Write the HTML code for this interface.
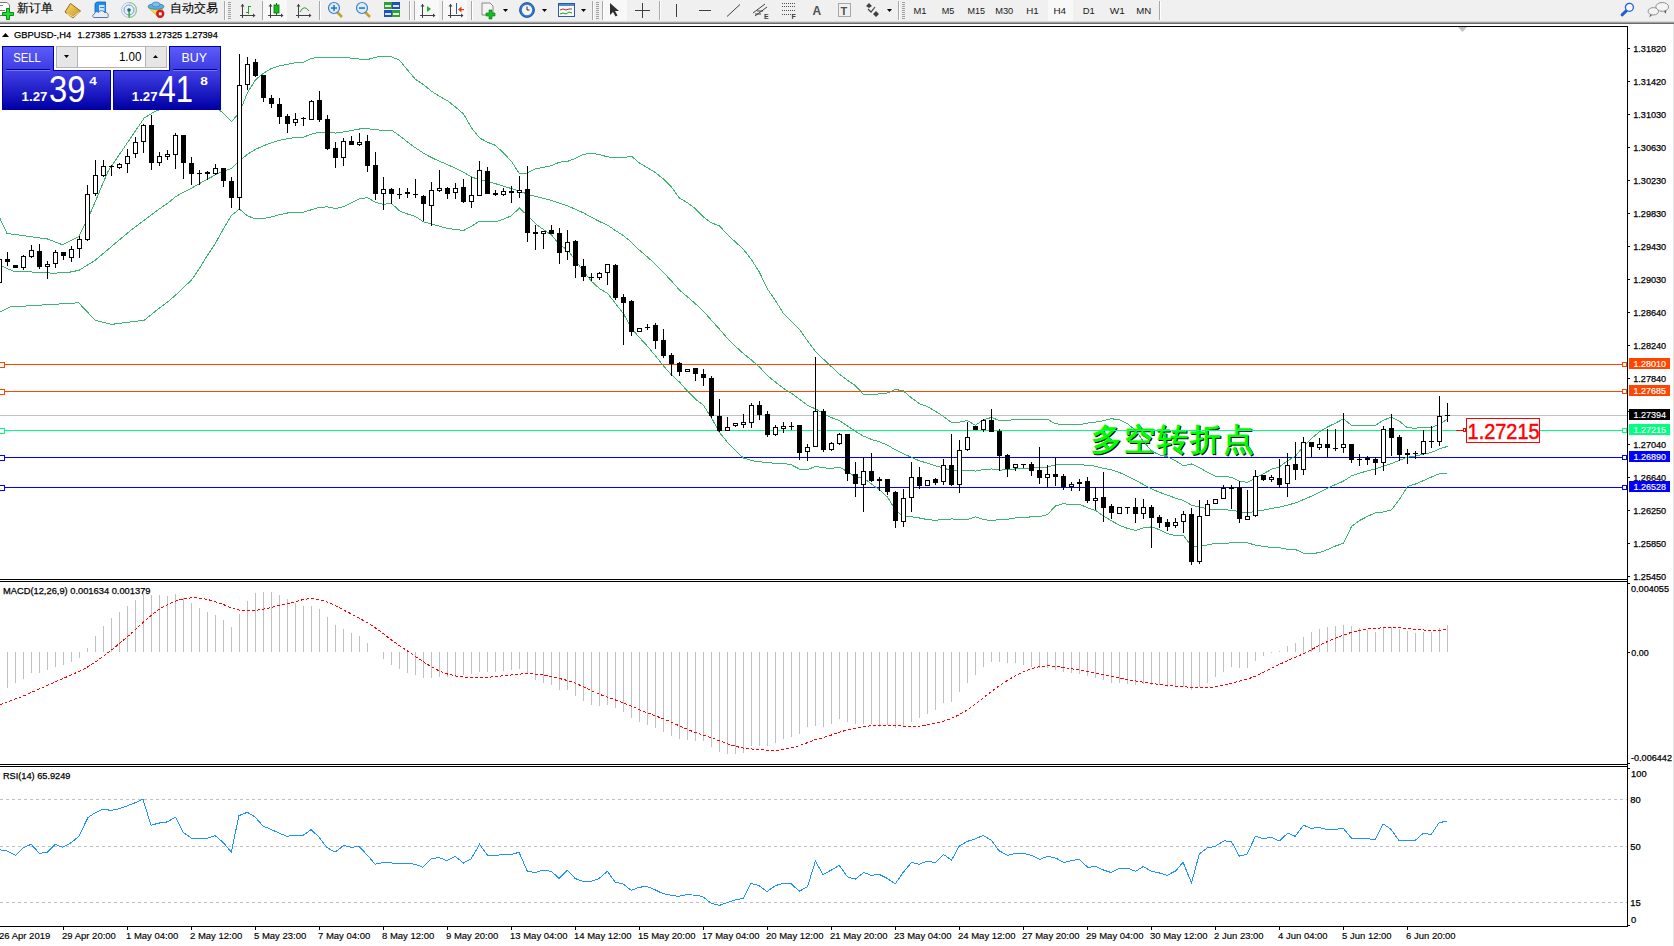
<!DOCTYPE html><html><head><meta charset="utf-8"><title>GBPUSD H4</title><style>
html,body{margin:0;padding:0;width:1674px;height:946px;overflow:hidden;background:#fff}
svg{display:block;font-family:"Liberation Sans",sans-serif}
.t{font-size:9.4px;fill:#000;stroke:#000;stroke-width:0.25px}
</style></head><body>
<svg width="1674" height="946" viewBox="0 0 1674 946">
<rect x="0" y="0" width="1674" height="22" fill="#F0F0F0"/>
<rect x="0" y="21" width="1674" height="1" fill="#D8D8D8"/>
<rect x="0" y="22" width="1674" height="1" fill="#A0A0A0"/>
<rect x="0" y="23" width="1674" height="1" fill="#6C6C6C"/>
<rect x="1673" y="24" width="1" height="922" fill="#E3E3E3"/>
<rect x="224" y="1" width="1" height="19" fill="#A8A8A8"/><rect x="225" y="1" width="1" height="19" fill="#FFFFFF"/><rect x="262" y="1" width="1" height="19" fill="#A8A8A8"/><rect x="263" y="1" width="1" height="19" fill="#FFFFFF"/><rect x="319" y="1" width="1" height="19" fill="#A8A8A8"/><rect x="320" y="1" width="1" height="19" fill="#FFFFFF"/><rect x="409" y="1" width="1" height="19" fill="#A8A8A8"/><rect x="410" y="1" width="1" height="19" fill="#FFFFFF"/><rect x="414" y="1" width="1" height="19" fill="#A8A8A8"/><rect x="415" y="1" width="1" height="19" fill="#FFFFFF"/><rect x="442" y="1" width="1" height="19" fill="#A8A8A8"/><rect x="443" y="1" width="1" height="19" fill="#FFFFFF"/><rect x="471" y="1" width="1" height="19" fill="#A8A8A8"/><rect x="472" y="1" width="1" height="19" fill="#FFFFFF"/><rect x="592" y="1" width="1" height="19" fill="#A8A8A8"/><rect x="593" y="1" width="1" height="19" fill="#FFFFFF"/><rect x="602" y="1" width="1" height="19" fill="#A8A8A8"/><rect x="603" y="1" width="1" height="19" fill="#FFFFFF"/><rect x="659" y="1" width="1" height="19" fill="#A8A8A8"/><rect x="660" y="1" width="1" height="19" fill="#FFFFFF"/><rect x="898" y="1" width="1" height="19" fill="#A8A8A8"/><rect x="899" y="1" width="1" height="19" fill="#FFFFFF"/><rect x="1159" y="1" width="1" height="19" fill="#A8A8A8"/><rect x="1160" y="1" width="1" height="19" fill="#FFFFFF"/><rect x="228" y="2" width="3" height="1" fill="#A0A0A0"/><rect x="228" y="4" width="3" height="1" fill="#A0A0A0"/><rect x="228" y="6" width="3" height="1" fill="#A0A0A0"/><rect x="228" y="8" width="3" height="1" fill="#A0A0A0"/><rect x="228" y="10" width="3" height="1" fill="#A0A0A0"/><rect x="228" y="12" width="3" height="1" fill="#A0A0A0"/><rect x="228" y="14" width="3" height="1" fill="#A0A0A0"/><rect x="228" y="16" width="3" height="1" fill="#A0A0A0"/><rect x="228" y="18" width="3" height="1" fill="#A0A0A0"/><rect x="596" y="2" width="3" height="1" fill="#A0A0A0"/><rect x="596" y="4" width="3" height="1" fill="#A0A0A0"/><rect x="596" y="6" width="3" height="1" fill="#A0A0A0"/><rect x="596" y="8" width="3" height="1" fill="#A0A0A0"/><rect x="596" y="10" width="3" height="1" fill="#A0A0A0"/><rect x="596" y="12" width="3" height="1" fill="#A0A0A0"/><rect x="596" y="14" width="3" height="1" fill="#A0A0A0"/><rect x="596" y="16" width="3" height="1" fill="#A0A0A0"/><rect x="596" y="18" width="3" height="1" fill="#A0A0A0"/><rect x="902" y="2" width="3" height="1" fill="#A0A0A0"/><rect x="902" y="4" width="3" height="1" fill="#A0A0A0"/><rect x="902" y="6" width="3" height="1" fill="#A0A0A0"/><rect x="902" y="8" width="3" height="1" fill="#A0A0A0"/><rect x="902" y="10" width="3" height="1" fill="#A0A0A0"/><rect x="902" y="12" width="3" height="1" fill="#A0A0A0"/><rect x="902" y="14" width="3" height="1" fill="#A0A0A0"/><rect x="902" y="16" width="3" height="1" fill="#A0A0A0"/><rect x="902" y="18" width="3" height="1" fill="#A0A0A0"/><rect x="263" y="0" width="24" height="21" fill="#F8F8F8"/><rect x="415" y="0" width="24" height="21" fill="#F8F8F8"/><rect x="443" y="0" width="24" height="21" fill="#F8F8F8"/><rect x="604" y="0" width="23" height="21" fill="#F8F8F8"/><rect x="1048" y="0" width="25" height="21" fill="#F8F8F8"/><path d="M-1 2.5h8l2.5 2.5v10.5H-1z" fill="#fff" stroke="#7A7A7A" stroke-width="1"/><rect x="0" y="5" width="3" height="1" fill="#808080"/><rect x="0" y="10" width="5" height="1" fill="#808080"/><path d="M6.5 8.5h3v4h4v3h-4v4h-3v-4h-4v-3h4z" fill="#22E030" stroke="#0A8A14" stroke-width="1"/><text x="17" y="12.2" style="font-size:12px;fill:#000;stroke:#000;stroke-width:0.12px">新订单</text><defs><linearGradient id="gbook" x1="0" y1="0" x2="1" y2="1"><stop offset="0" stop-color="#F8E070"/><stop offset="1" stop-color="#C89020"/></linearGradient></defs><path d="M65 12L70.5 3.5 80.5 11 73 18z" fill="url(#gbook)" stroke="#9A6410" stroke-width="1"/><path d="M67 13.5l6 3.5 6.5-5" fill="none" stroke="#FFF4C0" stroke-width="0.8"/><path d="M95 3.5l2-1.5h8.5v10.5h-10.5z" fill="#1E8CF0" stroke="#1060C0" stroke-width="0.8"/><rect x="99" y="5" width="5.5" height="6" fill="#CFE6FF"/><rect x="100" y="7" width="4" height="1" fill="#1E8CF0"/><path d="M94 17.5c-1.5 0-2-3 0.5-3.5c0-2.5 3-3 4-1.5c1-2.5 5-2.5 6 0c2.5-0.5 4.5 1.5 3.5 3.5c1 1.5-0.5 1.5-1 1.5z" fill="#E8EEF6" stroke="#4A6A9A" stroke-width="0.9"/><circle cx="129" cy="10" r="7.5" fill="none" stroke="#A8C8E8" stroke-width="1"/><circle cx="129" cy="10" r="5" fill="none" stroke="#6C9CD8" stroke-width="1"/><path d="M129 2.5a7.5 7.5 0 0 1 0 15" fill="none" stroke="#90C890" stroke-width="1.2"/><circle cx="129" cy="10" r="1.8" fill="#1A50C0"/><rect x="128.5" y="10" width="1.2" height="7.5" fill="#18A018"/><path d="M148.7 8l10 9.7 4.5-9.7z" fill="#F4D850" stroke="#C8A020" stroke-width="0.6"/><ellipse cx="156" cy="6.5" rx="8" ry="2.8" fill="#5AAEE6" stroke="#2E78B0" stroke-width="0.8"/><ellipse cx="156" cy="4.5" rx="4" ry="2.5" fill="#78C0EE" stroke="#2E78B0" stroke-width="0.6"/><circle cx="160.2" cy="13.8" r="4.2" fill="#D81818"/><rect x="158.8" y="12.4" width="2.9" height="2.9" fill="#fff"/><text x="169.5" y="12.2" style="font-size:12px;fill:#000;stroke:#000;stroke-width:0.12px">自动交易</text><rect x="242" y="4" width="1" height="14" fill="#404040"/><rect x="240" y="15" width="14" height="1" fill="#404040"/><path d="M240.5 6.5l2-2.5 2 2.5z" fill="#404040"/><path d="M253 13.5l2.5 2-2.5 2z" fill="#404040"/><rect x="248" y="6" width="1" height="8" fill="#20A020"/><rect x="249" y="6" width="2" height="1" fill="#20A020"/><rect x="246" y="12" width="2" height="1" fill="#20A020"/><rect x="270" y="4" width="1" height="14" fill="#404040"/><rect x="268" y="15" width="14" height="1" fill="#404040"/><path d="M268.5 6.5l2-2.5 2 2.5z" fill="#404040"/><path d="M281 13.5l2.5 2-2.5 2z" fill="#404040"/><rect x="276" y="3" width="1" height="12" fill="#087008"/><rect x="274" y="5" width="5" height="8" fill="#10C020" stroke="#087008" stroke-width="0.8"/><rect x="298" y="4" width="1" height="14" fill="#404040"/><rect x="296" y="15" width="14" height="1" fill="#404040"/><path d="M296.5 6.5l2-2.5 2 2.5z" fill="#404040"/><path d="M309 13.5l2.5 2-2.5 2z" fill="#404040"/><path d="M300 12 Q304 4 309 11" fill="none" stroke="#20A020" stroke-width="1"/><path d="M337 12l5 5" stroke="#C8A020" stroke-width="2.5" fill="none"/><circle cx="334" cy="8" r="5.5" fill="#D8ECFA" stroke="#3A80C8" stroke-width="1.2"/><rect x="331" y="7.3" width="6" height="1.5" fill="#3070B0"/><rect x="333.25" y="5" width="1.5" height="6" fill="#3070B0"/><path d="M365 12l5 5" stroke="#C8A020" stroke-width="2.5" fill="none"/><circle cx="362" cy="8" r="5.5" fill="#D8ECFA" stroke="#3A80C8" stroke-width="1.2"/><rect x="359" y="7.3" width="6" height="1.5" fill="#3070B0"/><rect x="384" y="2" width="8" height="7" fill="#30A030"/><rect x="392" y="2" width="8" height="7" fill="#2050C0"/><rect x="384" y="10" width="8" height="7" fill="#2050C0"/><rect x="392" y="10" width="8" height="7" fill="#30A030"/><rect x="385" y="5" width="6" height="2" fill="#fff" opacity="0.85"/><rect x="393" y="5" width="6" height="2" fill="#fff" opacity="0.85"/><rect x="385" y="13" width="6" height="2" fill="#fff" opacity="0.85"/><rect x="393" y="13" width="6" height="2" fill="#fff" opacity="0.85"/><rect x="422" y="4" width="1" height="14" fill="#404040"/><rect x="420" y="15" width="14" height="1" fill="#404040"/><path d="M420.5 6.5l2-2.5 2 2.5z" fill="#404040"/><path d="M433 13.5l2.5 2-2.5 2z" fill="#404040"/><path d="M427 6v6l4-3z" fill="#20B020"/><rect x="450" y="4" width="1" height="14" fill="#404040"/><rect x="448" y="15" width="14" height="1" fill="#404040"/><path d="M448.5 6.5l2-2.5 2 2.5z" fill="#404040"/><path d="M461 13.5l2.5 2-2.5 2z" fill="#404040"/><rect x="456" y="3" width="1" height="11" fill="#2060B0"/><path d="M458 9.5l3.5-3v6z" fill="#E04010"/><rect x="461" y="9" width="3" height="1.2" fill="#E04010"/><path d="M482 3h8l3 3v9h-11z" fill="#F4F4F4" stroke="#707070" stroke-width="0.8"/><path d="M486 13h3v-3h3v3h3v3h-3v3h-3v-3h-3z" fill="#10C020" stroke="#087010" stroke-width="0.6"/><path d="M503 9h5l-2.5 3z" fill="#000"/><path d="M542 9h5l-2.5 3z" fill="#000"/><path d="M581 9h5l-2.5 3z" fill="#000"/><circle cx="527" cy="10" r="7.5" fill="#2A78D0" stroke="#1A4A90" stroke-width="0.8"/><circle cx="527" cy="10" r="5.2" fill="#F4F4F4"/><path d="M527 6.5v3.5h2.5" stroke="#303030" stroke-width="1" fill="none"/><rect x="558.5" y="3.5" width="16" height="13" fill="#F8F8F8" stroke="#2A5AA0" stroke-width="1"/><rect x="559" y="4" width="15" height="2" fill="#4A8AD8"/><path d="M560 10l3-1 3 1 3-1 3 0" stroke="#C03020" stroke-width="1" fill="none"/><path d="M560 14l3-1 3 1 3-2 3 1" stroke="#20A020" stroke-width="1" fill="none"/><path d="M610 3v12l3-3 2.5 4.5 2-1-2.5-4.5h4z" fill="#303030"/><rect x="642" y="3" width="1" height="15" fill="#404040"/><rect x="635" y="10" width="15" height="1" fill="#404040"/><rect x="676" y="4" width="1" height="13" fill="#404040"/><rect x="699" y="10" width="12" height="1" fill="#404040"/><path d="M727 16.5l13-12" stroke="#404040" stroke-width="1" fill="none"/><path d="M753 13l12-9M755 16l12-9M757 11h6M755 14h6" stroke="#404040" stroke-width="1" fill="none"/><text x="764" y="18.5" style="font-size:7px;font-weight:bold;fill:#404040">E</text><path d="M782 3.5h13" stroke="#505050" stroke-width="1" stroke-dasharray="1,1" fill="none"/><path d="M782 6.5h13" stroke="#505050" stroke-width="1" stroke-dasharray="1,1" fill="none"/><path d="M782 10.5h13" stroke="#505050" stroke-width="1" stroke-dasharray="1,1" fill="none"/><path d="M782 14.5h13" stroke="#505050" stroke-width="1" stroke-dasharray="1,1" fill="none"/><text x="791.5" y="18.5" style="font-size:7px;font-weight:bold;fill:#404040">F</text><text x="812.5" y="15" style="font-size:12px;font-weight:bold;fill:#505050">A</text><rect x="838.5" y="3.5" width="12" height="13" fill="none" stroke="#606060" stroke-width="1" stroke-dasharray="1,1"/><text x="840.5" y="14.5" style="font-size:11px;font-weight:bold;fill:#505050">T</text><path d="M866 6l3-3 3 3-3 2zM873 14l3-3 3 3-3 3z" fill="#404040"/><path d="M868 9l3 3 4-5" stroke="#404040" stroke-width="1.2" fill="none"/><path d="M887 9h5l-2.5 3z" fill="#000"/><text x="913.5" y="14" textLength="13.0" lengthAdjust="spacingAndGlyphs" style="font-size:9.5px;fill:#202020">M1</text><text x="941.7" y="14" textLength="12.6" lengthAdjust="spacingAndGlyphs" style="font-size:9.5px;fill:#202020">M5</text><text x="967.6" y="14" textLength="17.5" lengthAdjust="spacingAndGlyphs" style="font-size:9.5px;fill:#202020">M15</text><text x="995.2" y="14" textLength="18.0" lengthAdjust="spacingAndGlyphs" style="font-size:9.5px;fill:#202020">M30</text><text x="1026.3" y="14" textLength="12.5" lengthAdjust="spacingAndGlyphs" style="font-size:9.5px;fill:#202020">H1</text><text x="1053.4" y="14" textLength="12.6" lengthAdjust="spacingAndGlyphs" style="font-size:9.5px;fill:#202020">H4</text><text x="1082.7" y="14" textLength="12.1" lengthAdjust="spacingAndGlyphs" style="font-size:9.5px;fill:#202020">D1</text><text x="1109.8" y="14" textLength="15.1" lengthAdjust="spacingAndGlyphs" style="font-size:9.5px;fill:#202020">W1</text><text x="1136.2" y="14" textLength="15.0" lengthAdjust="spacingAndGlyphs" style="font-size:9.5px;fill:#202020">MN</text><path d="M1626.5 10.6l-4.4 4.2" stroke="#2060D0" stroke-width="3" stroke-linecap="round"/><circle cx="1629.4" cy="7.3" r="4" fill="#F8F8FF" stroke="#2060D0" stroke-width="1.3"/><ellipse cx="1662.2" cy="6.9" rx="6.4" ry="4.4" fill="#F4F4F4" stroke="#909090" stroke-width="1"/><path d="M1664 11l1.5 3 1-3.5" fill="#606060"/><ellipse cx="1653.3" cy="11.3" rx="5.2" ry="3.7" fill="#F4F4F4" stroke="#909090" stroke-width="1"/><path d="M1650 14.5l-0.5 3 2.5-2.5" fill="#606060"/>
<g shape-rendering="crispEdges">
<rect x="0" y="26" width="1628" height="1" fill="#000"/>
<rect x="1627" y="26" width="1" height="901" fill="#000"/>
<rect x="0" y="579" width="1628" height="1" fill="#000"/>
<rect x="0" y="581" width="1628" height="1" fill="#000"/>
<rect x="0" y="764" width="1628" height="1" fill="#000"/>
<rect x="0" y="766" width="1628" height="1" fill="#000"/>
<rect x="0" y="926" width="1628" height="1" fill="#000"/>
</g>
<rect x="1628" y="48" width="2" height="1" fill="#000"/>
<text class="t" x="1633.2" y="52" textLength="33" lengthAdjust="spacingAndGlyphs" style="font-size:9.6px">1.31820</text>
<rect x="1628" y="81" width="2" height="1" fill="#000"/>
<text class="t" x="1633.2" y="85" textLength="33" lengthAdjust="spacingAndGlyphs" style="font-size:9.6px">1.31420</text>
<rect x="1628" y="114" width="2" height="1" fill="#000"/>
<text class="t" x="1633.2" y="118" textLength="33" lengthAdjust="spacingAndGlyphs" style="font-size:9.6px">1.31030</text>
<rect x="1628" y="147" width="2" height="1" fill="#000"/>
<text class="t" x="1633.2" y="151" textLength="33" lengthAdjust="spacingAndGlyphs" style="font-size:9.6px">1.30630</text>
<rect x="1628" y="180" width="2" height="1" fill="#000"/>
<text class="t" x="1633.2" y="184" textLength="33" lengthAdjust="spacingAndGlyphs" style="font-size:9.6px">1.30230</text>
<rect x="1628" y="213" width="2" height="1" fill="#000"/>
<text class="t" x="1633.2" y="217" textLength="33" lengthAdjust="spacingAndGlyphs" style="font-size:9.6px">1.29830</text>
<rect x="1628" y="246" width="2" height="1" fill="#000"/>
<text class="t" x="1633.2" y="250" textLength="33" lengthAdjust="spacingAndGlyphs" style="font-size:9.6px">1.29430</text>
<rect x="1628" y="279" width="2" height="1" fill="#000"/>
<text class="t" x="1633.2" y="283" textLength="33" lengthAdjust="spacingAndGlyphs" style="font-size:9.6px">1.29030</text>
<rect x="1628" y="312" width="2" height="1" fill="#000"/>
<text class="t" x="1633.2" y="316" textLength="33" lengthAdjust="spacingAndGlyphs" style="font-size:9.6px">1.28640</text>
<rect x="1628" y="345" width="2" height="1" fill="#000"/>
<text class="t" x="1633.2" y="349" textLength="33" lengthAdjust="spacingAndGlyphs" style="font-size:9.6px">1.28240</text>
<rect x="1628" y="378" width="2" height="1" fill="#000"/>
<text class="t" x="1633.2" y="382" textLength="33" lengthAdjust="spacingAndGlyphs" style="font-size:9.6px">1.27840</text>
<rect x="1628" y="411" width="2" height="1" fill="#000"/>
<text class="t" x="1633.2" y="415" textLength="33" lengthAdjust="spacingAndGlyphs" style="font-size:9.6px">1.27440</text>
<rect x="1628" y="444" width="2" height="1" fill="#000"/>
<text class="t" x="1633.2" y="448" textLength="33" lengthAdjust="spacingAndGlyphs" style="font-size:9.6px">1.27040</text>
<rect x="1628" y="477" width="2" height="1" fill="#000"/>
<text class="t" x="1633.2" y="481" textLength="33" lengthAdjust="spacingAndGlyphs" style="font-size:9.6px">1.26640</text>
<rect x="1628" y="510" width="2" height="1" fill="#000"/>
<text class="t" x="1633.2" y="514" textLength="33" lengthAdjust="spacingAndGlyphs" style="font-size:9.6px">1.26250</text>
<rect x="1628" y="543" width="2" height="1" fill="#000"/>
<text class="t" x="1633.2" y="547" textLength="33" lengthAdjust="spacingAndGlyphs" style="font-size:9.6px">1.25850</text>
<rect x="1628" y="576" width="2" height="1" fill="#000"/>
<text class="t" x="1633.2" y="580" textLength="33" lengthAdjust="spacingAndGlyphs" style="font-size:9.6px">1.25450</text>
<rect x="1628" y="583" width="2" height="1" fill="#000"/>
<text class="t" x="1631" y="592" textLength="38" lengthAdjust="spacingAndGlyphs">0.004055</text>
<rect x="1628" y="652" width="2" height="1" fill="#000"/>
<text class="t" x="1631.3" y="656" textLength="17.4" lengthAdjust="spacingAndGlyphs">0.00</text>
<rect x="1628" y="763" width="2" height="1" fill="#000"/>
<text class="t" x="1631" y="761" textLength="41" lengthAdjust="spacingAndGlyphs">-0.006442</text>
<rect x="1628" y="768" width="2" height="1" fill="#000"/>
<rect x="1628" y="925" width="2" height="1" fill="#000"/>
<text class="t" x="1631" y="777">100</text>
<text class="t" x="1630.3" y="803">80</text>
<text class="t" x="1630.3" y="850">50</text>
<text class="t" x="1630.3" y="906">15</text>
<text class="t" x="1631" y="923">0</text>
<text x="-1" y="939" style="font-size:9.5px;fill:#000;stroke:#000;stroke-width:0.15px">26 Apr 2019</text>
<rect x="63" y="927" width="1" height="3" fill="#000"/>
<text x="62" y="939" style="font-size:9.5px;fill:#000;stroke:#000;stroke-width:0.15px">29 Apr 20:00</text>
<rect x="127" y="927" width="1" height="3" fill="#000"/>
<text x="126" y="939" style="font-size:9.5px;fill:#000;stroke:#000;stroke-width:0.15px">1 May 04:00</text>
<rect x="191" y="927" width="1" height="3" fill="#000"/>
<text x="190" y="939" style="font-size:9.5px;fill:#000;stroke:#000;stroke-width:0.15px">2 May 12:00</text>
<rect x="255" y="927" width="1" height="3" fill="#000"/>
<text x="254" y="939" style="font-size:9.5px;fill:#000;stroke:#000;stroke-width:0.15px">5 May 23:00</text>
<rect x="319" y="927" width="1" height="3" fill="#000"/>
<text x="318" y="939" style="font-size:9.5px;fill:#000;stroke:#000;stroke-width:0.15px">7 May 04:00</text>
<rect x="383" y="927" width="1" height="3" fill="#000"/>
<text x="382" y="939" style="font-size:9.5px;fill:#000;stroke:#000;stroke-width:0.15px">8 May 12:00</text>
<rect x="447" y="927" width="1" height="3" fill="#000"/>
<text x="446" y="939" style="font-size:9.5px;fill:#000;stroke:#000;stroke-width:0.15px">9 May 20:00</text>
<rect x="511" y="927" width="1" height="3" fill="#000"/>
<text x="510" y="939" style="font-size:9.5px;fill:#000;stroke:#000;stroke-width:0.15px">13 May 04:00</text>
<rect x="575" y="927" width="1" height="3" fill="#000"/>
<text x="574" y="939" style="font-size:9.5px;fill:#000;stroke:#000;stroke-width:0.15px">14 May 12:00</text>
<rect x="639" y="927" width="1" height="3" fill="#000"/>
<text x="638" y="939" style="font-size:9.5px;fill:#000;stroke:#000;stroke-width:0.15px">15 May 20:00</text>
<rect x="703" y="927" width="1" height="3" fill="#000"/>
<text x="702" y="939" style="font-size:9.5px;fill:#000;stroke:#000;stroke-width:0.15px">17 May 04:00</text>
<rect x="767" y="927" width="1" height="3" fill="#000"/>
<text x="766" y="939" style="font-size:9.5px;fill:#000;stroke:#000;stroke-width:0.15px">20 May 12:00</text>
<rect x="831" y="927" width="1" height="3" fill="#000"/>
<text x="830" y="939" style="font-size:9.5px;fill:#000;stroke:#000;stroke-width:0.15px">21 May 20:00</text>
<rect x="895" y="927" width="1" height="3" fill="#000"/>
<text x="894" y="939" style="font-size:9.5px;fill:#000;stroke:#000;stroke-width:0.15px">23 May 04:00</text>
<rect x="959" y="927" width="1" height="3" fill="#000"/>
<text x="958" y="939" style="font-size:9.5px;fill:#000;stroke:#000;stroke-width:0.15px">24 May 12:00</text>
<rect x="1023" y="927" width="1" height="3" fill="#000"/>
<text x="1022" y="939" style="font-size:9.5px;fill:#000;stroke:#000;stroke-width:0.15px">27 May 20:00</text>
<rect x="1087" y="927" width="1" height="3" fill="#000"/>
<text x="1086" y="939" style="font-size:9.5px;fill:#000;stroke:#000;stroke-width:0.15px">29 May 04:00</text>
<rect x="1151" y="927" width="1" height="3" fill="#000"/>
<text x="1150" y="939" style="font-size:9.5px;fill:#000;stroke:#000;stroke-width:0.15px">30 May 12:00</text>
<rect x="1215" y="927" width="1" height="3" fill="#000"/>
<text x="1214" y="939" style="font-size:9.5px;fill:#000;stroke:#000;stroke-width:0.15px">2 Jun 23:00</text>
<rect x="1279" y="927" width="1" height="3" fill="#000"/>
<text x="1278" y="939" style="font-size:9.5px;fill:#000;stroke:#000;stroke-width:0.15px">4 Jun 04:00</text>
<rect x="1343" y="927" width="1" height="3" fill="#000"/>
<text x="1342" y="939" style="font-size:9.5px;fill:#000;stroke:#000;stroke-width:0.15px">5 Jun 12:00</text>
<rect x="1407" y="927" width="1" height="3" fill="#000"/>
<text x="1406" y="939" style="font-size:9.5px;fill:#000;stroke:#000;stroke-width:0.15px">6 Jun 20:00</text>
<text x="1092" y="451" style="font-family:'Liberation Serif',serif;font-size:31px;letter-spacing:2px;fill:#000;stroke:#000;stroke-width:0.9">多空转折点</text>
<text x="1091" y="450" style="font-family:'Liberation Serif',serif;font-size:31px;letter-spacing:2px;fill:#00FF00;stroke:#00FF00;stroke-width:0.9">多空转折点</text>
<g shape-rendering="crispEdges">
<rect x="0" y="364" width="1627" height="1" fill="#FF4500"/>
<rect x="-1" y="362" width="5" height="5" fill="#fff" stroke="#FF4500" stroke-width="1" transform="translate(0.5,0.5)"/>
<rect x="1622" y="362" width="4" height="4" fill="#fff" stroke="#FF4500" stroke-width="1" transform="translate(0.5,0.5)"/>
<rect x="0" y="391" width="1627" height="1" fill="#FF4500"/>
<rect x="-1" y="389" width="5" height="5" fill="#fff" stroke="#FF4500" stroke-width="1" transform="translate(0.5,0.5)"/>
<rect x="1622" y="389" width="4" height="4" fill="#fff" stroke="#FF4500" stroke-width="1" transform="translate(0.5,0.5)"/>
<rect x="0" y="415" width="1627" height="1" fill="#C0C0C0"/>
<rect x="0" y="430" width="1627" height="1" fill="#00FF7F"/>
<rect x="-1" y="428" width="5" height="5" fill="#fff" stroke="#00FF7F" stroke-width="1" transform="translate(0.5,0.5)"/>
<rect x="1622" y="428" width="4" height="4" fill="#fff" stroke="#00FF7F" stroke-width="1" transform="translate(0.5,0.5)"/>
<rect x="0" y="457" width="1627" height="1" fill="#0000FF"/>
<rect x="-1" y="455" width="5" height="5" fill="#fff" stroke="#0000FF" stroke-width="1" transform="translate(0.5,0.5)"/>
<rect x="1622" y="455" width="4" height="4" fill="#fff" stroke="#0000FF" stroke-width="1" transform="translate(0.5,0.5)"/>
<rect x="0" y="487" width="1627" height="1" fill="#0000FF"/>
<rect x="-1" y="485" width="5" height="5" fill="#fff" stroke="#0000FF" stroke-width="1" transform="translate(0.5,0.5)"/>
<rect x="1622" y="485" width="4" height="4" fill="#fff" stroke="#0000FF" stroke-width="1" transform="translate(0.5,0.5)"/>
</g>
<g fill="none" stroke="#3CB371" stroke-width="1" shape-rendering="crispEdges">
<polyline points="0.0,218.5 7.0,233.4 47.5,239.0 62.3,244.7 79.0,236.5 85.6,222.4 90.0,214.0 108.2,171.0 144.3,117.9 154.0,112.0 159.5,109.6 167.5,104.7 175.5,98.4 183.5,96.7 191.5,96.4 199.5,98.9 207.5,102.9 215.5,106.5 223.5,113.5 231.5,121.6 239.5,112.5 247.5,92.7 255.5,79.7 263.5,73.2 271.5,68.5 279.5,65.9 287.5,64.3 295.5,62.7 303.5,62.1 311.5,58.5 319.5,57.1 327.5,57.1 335.5,57.4 343.5,57.4 351.5,58.2 359.5,59.1 367.5,59.6 375.5,57.2 383.5,56.3 391.5,56.8 399.5,60.2 407.5,70.0 415.5,79.4 423.5,84.7 431.5,91.2 439.5,96.3 447.5,100.8 455.5,107.0 463.5,114.0 471.5,127.8 479.5,137.9 487.5,142.2 495.5,145.4 503.5,153.0 511.5,161.4 519.5,174.0 527.5,172.9 535.5,168.9 543.5,167.2 551.5,165.8 559.5,162.1 567.5,161.4 575.5,158.3 583.5,154.3 591.5,153.3 599.5,154.5 607.5,156.9 615.5,157.6 623.5,157.6 631.5,156.3 639.5,163.0 647.5,167.7 655.5,172.7 663.5,179.1 671.5,187.2 679.5,198.1 687.5,202.7 695.5,208.8 703.5,217.1 711.5,222.9 719.5,225.9 727.5,234.7 735.5,242.0 743.5,249.4 751.5,259.7 759.5,272.4 767.5,289.1 775.5,300.7 783.5,313.5 791.5,321.3 799.5,329.5 807.5,340.8 815.5,351.5 823.5,359.2 831.5,366.8 839.5,374.2 847.5,380.2 855.5,385.8 863.5,394.4 871.5,394.6 879.5,393.9 887.5,393.0 895.5,389.4 903.5,391.0 911.5,397.9 919.5,403.7 927.5,406.7 935.5,411.4 943.5,416.4 951.5,422.5 959.5,422.2 967.5,420.6 975.5,425.3 983.5,419.6 991.5,417.5 999.5,420.5 1007.5,420.3 1015.5,419.7 1023.5,419.4 1031.5,419.2 1039.5,419.1 1047.5,419.4 1055.5,423.7 1063.5,424.7 1071.5,424.5 1079.5,424.6 1087.5,423.1 1095.5,422.1 1103.5,420.7 1111.5,418.7 1119.5,419.9 1127.5,423.8 1135.5,430.2 1143.5,441.5 1151.5,451.0 1159.5,454.9 1167.5,456.7 1175.5,460.6 1183.5,465.8 1191.5,464.0 1199.5,467.8 1207.5,472.2 1215.5,476.1 1223.5,476.5 1231.5,477.2 1239.5,481.2 1247.5,482.3 1255.5,477.9 1263.5,473.7 1271.5,469.3 1279.5,466.8 1287.5,460.8 1295.5,456.2 1303.5,446.1 1311.5,438.5 1319.5,431.8 1327.5,427.0 1335.5,423.1 1343.5,418.8 1351.5,425.3 1359.5,425.6 1367.5,425.3 1375.5,425.3 1383.5,420.1 1391.5,417.1 1399.5,421.3 1407.5,427.9 1415.5,428.1 1423.5,427.7 1431.5,427.7 1439.5,424.2 1447.5,419.0"/>
<polyline points="0.0,265.4 13.0,271.0 52.0,273.1 66.6,272.8 79.0,270.3 95.0,260.4 131.1,230.0 159.5,208.8 167.5,203.4 175.5,196.8 183.5,192.1 191.5,188.2 199.5,183.6 207.5,179.1 215.5,174.8 223.5,171.1 231.5,168.5 239.5,160.8 247.5,154.3 255.5,149.3 263.5,145.8 271.5,142.7 279.5,140.3 287.5,138.7 295.5,137.5 303.5,137.2 311.5,134.1 319.5,132.2 327.5,131.9 335.5,133.1 343.5,132.0 351.5,130.6 359.5,129.0 367.5,128.6 375.5,129.8 383.5,130.3 391.5,130.1 399.5,135.6 407.5,142.0 415.5,147.9 423.5,153.2 431.5,157.6 439.5,161.2 447.5,164.7 455.5,168.2 463.5,172.3 471.5,177.0 479.5,179.6 487.5,181.8 495.5,183.7 503.5,186.2 511.5,188.6 519.5,190.9 527.5,194.3 535.5,196.3 543.5,198.4 551.5,200.4 559.5,203.3 567.5,205.8 575.5,209.3 583.5,212.9 591.5,217.3 599.5,221.6 607.5,225.1 615.5,230.6 623.5,235.6 631.5,242.4 639.5,250.3 647.5,257.0 655.5,264.3 663.5,272.5 671.5,281.1 679.5,290.1 687.5,296.9 695.5,303.9 703.5,311.2 711.5,320.4 719.5,329.2 727.5,338.5 735.5,346.4 743.5,353.7 751.5,360.1 759.5,367.1 767.5,375.6 775.5,382.1 783.5,388.4 791.5,393.1 799.5,399.3 807.5,405.3 815.5,408.9 823.5,413.6 831.5,417.6 839.5,420.7 847.5,425.9 855.5,431.4 863.5,436.1 871.5,439.4 879.5,441.9 887.5,445.1 895.5,449.9 903.5,453.7 911.5,457.3 919.5,460.9 927.5,463.1 935.5,465.9 943.5,467.9 951.5,470.8 959.5,470.6 967.5,470.1 975.5,471.1 983.5,469.6 991.5,469.0 999.5,470.1 1007.5,469.8 1015.5,468.9 1023.5,468.5 1031.5,468.0 1039.5,467.9 1047.5,467.0 1055.5,464.8 1063.5,464.2 1071.5,464.6 1079.5,464.4 1087.5,465.4 1095.5,466.2 1103.5,468.4 1111.5,469.8 1119.5,472.6 1127.5,476.1 1135.5,480.3 1143.5,484.6 1151.5,488.9 1159.5,492.3 1167.5,495.2 1175.5,498.1 1183.5,500.6 1191.5,505.1 1199.5,507.1 1207.5,508.6 1215.5,509.8 1223.5,509.9 1231.5,510.1 1239.5,511.8 1247.5,512.6 1255.5,511.5 1263.5,510.1 1271.5,508.4 1279.5,507.2 1287.5,505.1 1295.5,502.9 1303.5,499.6 1311.5,496.1 1319.5,492.2 1327.5,488.2 1335.5,484.6 1343.5,481.1 1351.5,475.9 1359.5,473.1 1367.5,470.9 1375.5,469.0 1383.5,466.1 1391.5,463.5 1399.5,460.3 1407.5,457.2 1415.5,456.1 1423.5,454.1 1431.5,452.4 1439.5,448.9 1447.5,446.4"/>
<polyline points="0.0,312.0 9.8,307.0 78.7,302.8 95.1,320.2 111.5,324.4 144.3,320.2 159.5,307.9 167.5,302.1 175.5,295.2 183.5,287.5 191.5,280.1 199.5,268.3 207.5,255.2 215.5,243.2 223.5,228.7 231.5,215.4 239.5,209.1 247.5,215.9 255.5,218.9 263.5,218.5 271.5,216.9 279.5,214.7 287.5,213.0 295.5,212.3 303.5,212.2 311.5,209.7 319.5,207.4 327.5,206.8 335.5,208.7 343.5,206.6 351.5,202.9 359.5,198.9 367.5,197.6 375.5,202.5 383.5,204.3 391.5,203.4 399.5,210.9 407.5,214.0 415.5,216.5 423.5,221.8 431.5,224.0 439.5,226.1 447.5,228.6 455.5,229.3 463.5,230.6 471.5,226.2 479.5,221.2 487.5,221.4 495.5,221.9 503.5,219.3 511.5,215.7 519.5,207.9 527.5,215.7 535.5,223.7 543.5,229.6 551.5,235.0 559.5,244.5 567.5,250.1 575.5,260.3 583.5,271.6 591.5,281.3 599.5,288.6 607.5,293.3 615.5,303.5 623.5,313.6 631.5,328.5 639.5,337.6 647.5,346.3 655.5,355.9 663.5,365.9 671.5,374.9 679.5,382.1 687.5,391.2 695.5,399.1 703.5,405.4 711.5,417.8 719.5,432.6 727.5,442.3 735.5,450.8 743.5,458.0 751.5,460.5 759.5,461.9 767.5,462.2 775.5,463.6 783.5,463.2 791.5,464.9 799.5,469.1 807.5,469.8 815.5,466.2 823.5,467.9 831.5,468.3 839.5,467.2 847.5,471.6 855.5,477.0 863.5,477.8 871.5,484.1 879.5,489.8 887.5,497.1 895.5,510.4 903.5,516.4 911.5,516.7 919.5,518.0 927.5,519.6 935.5,520.4 943.5,519.3 951.5,519.0 959.5,519.1 967.5,519.7 975.5,516.8 983.5,519.6 991.5,520.5 999.5,519.6 1007.5,519.3 1015.5,518.0 1023.5,517.6 1031.5,516.8 1039.5,516.6 1047.5,514.6 1055.5,505.9 1063.5,503.7 1071.5,504.6 1079.5,504.3 1087.5,507.8 1095.5,510.4 1103.5,516.0 1111.5,520.8 1119.5,525.3 1127.5,528.4 1135.5,530.4 1143.5,527.8 1151.5,526.9 1159.5,529.7 1167.5,533.7 1175.5,535.6 1183.5,535.4 1191.5,546.3 1199.5,546.4 1207.5,545.0 1215.5,543.4 1223.5,543.2 1231.5,542.9 1239.5,542.4 1247.5,542.9 1255.5,545.1 1263.5,546.5 1271.5,547.4 1279.5,547.6 1287.5,549.4 1295.5,549.6 1303.5,553.2 1311.5,553.7 1319.5,552.6 1327.5,549.5 1335.5,546.0 1343.5,543.3 1351.5,526.6 1359.5,520.6 1367.5,516.4 1375.5,512.7 1383.5,512.0 1391.5,509.9 1399.5,499.3 1407.5,486.5 1415.5,484.0 1423.5,480.6 1431.5,477.0 1439.5,473.7 1447.5,473.9"/>
</g>
<g shape-rendering="crispEdges">
<rect x="-1" y="255" width="1" height="35" fill="#000"/>
<rect x="-3" y="259" width="5" height="24" fill="#000"/>
<rect x="-2" y="260" width="3" height="22" fill="#fff"/>
<rect x="7" y="252" width="1" height="14" fill="#000"/>
<rect x="5" y="259" width="5" height="3" fill="#000"/>
<rect x="15" y="265" width="1" height="3" fill="#000"/>
<rect x="13" y="265" width="5" height="3" fill="#000"/>
<rect x="23" y="255" width="1" height="15" fill="#000"/>
<rect x="21" y="256" width="5" height="12" fill="#000"/>
<rect x="22" y="257" width="3" height="10" fill="#fff"/>
<rect x="31" y="245" width="1" height="13" fill="#000"/>
<rect x="29" y="250" width="5" height="7" fill="#000"/>
<rect x="30" y="251" width="3" height="5" fill="#fff"/>
<rect x="39" y="244" width="1" height="25" fill="#000"/>
<rect x="37" y="251" width="5" height="16" fill="#000"/>
<rect x="47" y="261" width="1" height="18" fill="#000"/>
<rect x="45" y="264" width="5" height="3" fill="#000"/>
<rect x="46" y="265" width="3" height="1" fill="#fff"/>
<rect x="55" y="250" width="1" height="18" fill="#000"/>
<rect x="53" y="252" width="5" height="12" fill="#000"/>
<rect x="54" y="253" width="3" height="10" fill="#fff"/>
<rect x="63" y="252" width="1" height="8" fill="#000"/>
<rect x="61" y="252" width="5" height="4" fill="#000"/>
<rect x="71" y="246" width="1" height="16" fill="#000"/>
<rect x="69" y="249" width="5" height="9" fill="#000"/>
<rect x="70" y="250" width="3" height="7" fill="#fff"/>
<rect x="79" y="236" width="1" height="22" fill="#000"/>
<rect x="77" y="239" width="5" height="10" fill="#000"/>
<rect x="78" y="240" width="3" height="8" fill="#fff"/>
<rect x="87" y="185" width="1" height="56" fill="#000"/>
<rect x="85" y="194" width="5" height="46" fill="#000"/>
<rect x="86" y="195" width="3" height="44" fill="#fff"/>
<rect x="95" y="160" width="1" height="36" fill="#000"/>
<rect x="93" y="175" width="5" height="19" fill="#000"/>
<rect x="94" y="176" width="3" height="17" fill="#fff"/>
<rect x="103" y="160" width="1" height="17" fill="#000"/>
<rect x="101" y="166" width="5" height="10" fill="#000"/>
<rect x="102" y="167" width="3" height="8" fill="#fff"/>
<rect x="111" y="165" width="1" height="11" fill="#000"/>
<rect x="109" y="166" width="5" height="1" fill="#000"/>
<rect x="119" y="163" width="1" height="6" fill="#000"/>
<rect x="117" y="164" width="5" height="4" fill="#000"/>
<rect x="118" y="165" width="3" height="2" fill="#fff"/>
<rect x="127" y="149" width="1" height="24" fill="#000"/>
<rect x="125" y="156" width="5" height="8" fill="#000"/>
<rect x="126" y="157" width="3" height="6" fill="#fff"/>
<rect x="135" y="137" width="1" height="21" fill="#000"/>
<rect x="133" y="142" width="5" height="12" fill="#000"/>
<rect x="134" y="143" width="3" height="10" fill="#fff"/>
<rect x="143" y="124" width="1" height="29" fill="#000"/>
<rect x="141" y="125" width="5" height="17" fill="#000"/>
<rect x="142" y="126" width="3" height="15" fill="#fff"/>
<rect x="151" y="115" width="1" height="55" fill="#000"/>
<rect x="149" y="125" width="5" height="38" fill="#000"/>
<rect x="159" y="152" width="1" height="14" fill="#000"/>
<rect x="157" y="156" width="5" height="7" fill="#000"/>
<rect x="158" y="157" width="3" height="5" fill="#fff"/>
<rect x="167" y="150" width="1" height="10" fill="#000"/>
<rect x="165" y="154" width="5" height="3" fill="#000"/>
<rect x="166" y="155" width="3" height="1" fill="#fff"/>
<rect x="175" y="133" width="1" height="36" fill="#000"/>
<rect x="173" y="135" width="5" height="20" fill="#000"/>
<rect x="174" y="136" width="3" height="18" fill="#fff"/>
<rect x="183" y="135" width="1" height="44" fill="#000"/>
<rect x="181" y="135" width="5" height="28" fill="#000"/>
<rect x="191" y="157" width="1" height="28" fill="#000"/>
<rect x="189" y="163" width="5" height="11" fill="#000"/>
<rect x="199" y="170" width="1" height="15" fill="#000"/>
<rect x="197" y="173" width="5" height="1" fill="#000"/>
<rect x="207" y="171" width="1" height="9" fill="#000"/>
<rect x="205" y="172" width="5" height="2" fill="#000"/>
<rect x="215" y="164" width="1" height="11" fill="#000"/>
<rect x="213" y="168" width="5" height="6" fill="#000"/>
<rect x="214" y="169" width="3" height="4" fill="#fff"/>
<rect x="223" y="168" width="1" height="19" fill="#000"/>
<rect x="221" y="168" width="5" height="13" fill="#000"/>
<rect x="231" y="177" width="1" height="31" fill="#000"/>
<rect x="229" y="181" width="5" height="17" fill="#000"/>
<rect x="239" y="54" width="1" height="156" fill="#000"/>
<rect x="237" y="85" width="5" height="113" fill="#000"/>
<rect x="238" y="86" width="3" height="111" fill="#fff"/>
<rect x="247" y="57" width="1" height="33" fill="#000"/>
<rect x="245" y="64" width="5" height="21" fill="#000"/>
<rect x="246" y="65" width="3" height="19" fill="#fff"/>
<rect x="255" y="59" width="1" height="18" fill="#000"/>
<rect x="253" y="62" width="5" height="14" fill="#000"/>
<rect x="263" y="75" width="1" height="27" fill="#000"/>
<rect x="261" y="75" width="5" height="23" fill="#000"/>
<rect x="271" y="95" width="1" height="13" fill="#000"/>
<rect x="269" y="98" width="5" height="6" fill="#000"/>
<rect x="279" y="98" width="1" height="26" fill="#000"/>
<rect x="277" y="104" width="5" height="13" fill="#000"/>
<rect x="287" y="114" width="1" height="19" fill="#000"/>
<rect x="285" y="116" width="5" height="8" fill="#000"/>
<rect x="295" y="113" width="1" height="13" fill="#000"/>
<rect x="293" y="119" width="5" height="4" fill="#000"/>
<rect x="294" y="120" width="3" height="2" fill="#fff"/>
<rect x="303" y="117" width="1" height="9" fill="#000"/>
<rect x="301" y="118" width="5" height="1" fill="#000"/>
<rect x="311" y="100" width="1" height="20" fill="#000"/>
<rect x="309" y="101" width="5" height="19" fill="#000"/>
<rect x="310" y="102" width="3" height="17" fill="#fff"/>
<rect x="319" y="91" width="1" height="31" fill="#000"/>
<rect x="317" y="100" width="5" height="20" fill="#000"/>
<rect x="327" y="115" width="1" height="35" fill="#000"/>
<rect x="325" y="119" width="5" height="30" fill="#000"/>
<rect x="335" y="142" width="1" height="26" fill="#000"/>
<rect x="333" y="148" width="5" height="10" fill="#000"/>
<rect x="343" y="138" width="1" height="28" fill="#000"/>
<rect x="341" y="141" width="5" height="17" fill="#000"/>
<rect x="342" y="142" width="3" height="15" fill="#fff"/>
<rect x="351" y="136" width="1" height="9" fill="#000"/>
<rect x="349" y="141" width="5" height="4" fill="#000"/>
<rect x="359" y="133" width="1" height="13" fill="#000"/>
<rect x="357" y="142" width="5" height="3" fill="#000"/>
<rect x="358" y="143" width="3" height="1" fill="#fff"/>
<rect x="367" y="135" width="1" height="37" fill="#000"/>
<rect x="365" y="141" width="5" height="25" fill="#000"/>
<rect x="375" y="152" width="1" height="48" fill="#000"/>
<rect x="373" y="165" width="5" height="29" fill="#000"/>
<rect x="383" y="177" width="1" height="33" fill="#000"/>
<rect x="381" y="189" width="5" height="5" fill="#000"/>
<rect x="382" y="190" width="3" height="3" fill="#fff"/>
<rect x="391" y="188" width="1" height="16" fill="#000"/>
<rect x="389" y="189" width="5" height="5" fill="#000"/>
<rect x="399" y="188" width="1" height="11" fill="#000"/>
<rect x="397" y="194" width="5" height="1" fill="#000"/>
<rect x="407" y="188" width="1" height="10" fill="#000"/>
<rect x="405" y="192" width="5" height="2" fill="#000"/>
<rect x="415" y="179" width="1" height="19" fill="#000"/>
<rect x="413" y="194" width="5" height="1" fill="#000"/>
<rect x="423" y="195" width="1" height="26" fill="#000"/>
<rect x="421" y="196" width="5" height="8" fill="#000"/>
<rect x="431" y="182" width="1" height="44" fill="#000"/>
<rect x="429" y="190" width="5" height="16" fill="#000"/>
<rect x="430" y="191" width="3" height="14" fill="#fff"/>
<rect x="439" y="170" width="1" height="22" fill="#000"/>
<rect x="437" y="188" width="5" height="3" fill="#000"/>
<rect x="438" y="189" width="3" height="1" fill="#fff"/>
<rect x="447" y="187" width="1" height="12" fill="#000"/>
<rect x="445" y="188" width="5" height="6" fill="#000"/>
<rect x="455" y="183" width="1" height="16" fill="#000"/>
<rect x="453" y="188" width="5" height="5" fill="#000"/>
<rect x="454" y="189" width="3" height="3" fill="#fff"/>
<rect x="463" y="179" width="1" height="24" fill="#000"/>
<rect x="461" y="187" width="5" height="15" fill="#000"/>
<rect x="471" y="177" width="1" height="31" fill="#000"/>
<rect x="469" y="195" width="5" height="7" fill="#000"/>
<rect x="470" y="196" width="3" height="5" fill="#fff"/>
<rect x="479" y="161" width="1" height="35" fill="#000"/>
<rect x="477" y="170" width="5" height="26" fill="#000"/>
<rect x="478" y="171" width="3" height="24" fill="#fff"/>
<rect x="487" y="167" width="1" height="27" fill="#000"/>
<rect x="485" y="171" width="5" height="23" fill="#000"/>
<rect x="495" y="190" width="1" height="6" fill="#000"/>
<rect x="493" y="193" width="5" height="2" fill="#000"/>
<rect x="503" y="188" width="1" height="8" fill="#000"/>
<rect x="501" y="191" width="5" height="4" fill="#000"/>
<rect x="502" y="192" width="3" height="2" fill="#fff"/>
<rect x="511" y="186" width="1" height="17" fill="#000"/>
<rect x="509" y="191" width="5" height="2" fill="#000"/>
<rect x="519" y="176" width="1" height="22" fill="#000"/>
<rect x="517" y="190" width="5" height="3" fill="#000"/>
<rect x="518" y="191" width="3" height="1" fill="#fff"/>
<rect x="527" y="166" width="1" height="76" fill="#000"/>
<rect x="525" y="189" width="5" height="44" fill="#000"/>
<rect x="535" y="225" width="1" height="25" fill="#000"/>
<rect x="533" y="232" width="5" height="2" fill="#000"/>
<rect x="543" y="231" width="1" height="18" fill="#000"/>
<rect x="541" y="231" width="5" height="3" fill="#000"/>
<rect x="542" y="232" width="3" height="1" fill="#fff"/>
<rect x="551" y="225" width="1" height="9" fill="#000"/>
<rect x="549" y="230" width="5" height="4" fill="#000"/>
<rect x="559" y="228" width="1" height="36" fill="#000"/>
<rect x="557" y="233" width="5" height="20" fill="#000"/>
<rect x="567" y="230" width="1" height="30" fill="#000"/>
<rect x="565" y="242" width="5" height="10" fill="#000"/>
<rect x="566" y="243" width="3" height="8" fill="#fff"/>
<rect x="575" y="240" width="1" height="38" fill="#000"/>
<rect x="573" y="241" width="5" height="25" fill="#000"/>
<rect x="583" y="259" width="1" height="22" fill="#000"/>
<rect x="581" y="266" width="5" height="11" fill="#000"/>
<rect x="591" y="273" width="1" height="8" fill="#000"/>
<rect x="589" y="277" width="5" height="1" fill="#000"/>
<rect x="599" y="272" width="1" height="8" fill="#000"/>
<rect x="597" y="273" width="5" height="5" fill="#000"/>
<rect x="598" y="274" width="3" height="3" fill="#fff"/>
<rect x="607" y="264" width="1" height="21" fill="#000"/>
<rect x="605" y="264" width="5" height="9" fill="#000"/>
<rect x="606" y="265" width="3" height="7" fill="#fff"/>
<rect x="615" y="264" width="1" height="36" fill="#000"/>
<rect x="613" y="265" width="5" height="33" fill="#000"/>
<rect x="623" y="294" width="1" height="51" fill="#000"/>
<rect x="621" y="297" width="5" height="6" fill="#000"/>
<rect x="631" y="300" width="1" height="36" fill="#000"/>
<rect x="629" y="301" width="5" height="31" fill="#000"/>
<rect x="639" y="328" width="1" height="4" fill="#000"/>
<rect x="637" y="328" width="5" height="4" fill="#000"/>
<rect x="638" y="329" width="3" height="2" fill="#fff"/>
<rect x="647" y="324" width="1" height="6" fill="#000"/>
<rect x="645" y="327" width="5" height="1" fill="#000"/>
<rect x="655" y="323" width="1" height="26" fill="#000"/>
<rect x="653" y="325" width="5" height="16" fill="#000"/>
<rect x="663" y="329" width="1" height="29" fill="#000"/>
<rect x="661" y="340" width="5" height="16" fill="#000"/>
<rect x="671" y="353" width="1" height="23" fill="#000"/>
<rect x="669" y="355" width="5" height="9" fill="#000"/>
<rect x="679" y="362" width="1" height="14" fill="#000"/>
<rect x="677" y="363" width="5" height="9" fill="#000"/>
<rect x="687" y="369" width="1" height="3" fill="#000"/>
<rect x="685" y="369" width="5" height="3" fill="#000"/>
<rect x="686" y="370" width="3" height="1" fill="#fff"/>
<rect x="695" y="368" width="1" height="13" fill="#000"/>
<rect x="693" y="368" width="5" height="6" fill="#000"/>
<rect x="703" y="369" width="1" height="17" fill="#000"/>
<rect x="701" y="374" width="5" height="4" fill="#000"/>
<rect x="711" y="376" width="1" height="42" fill="#000"/>
<rect x="709" y="378" width="5" height="38" fill="#000"/>
<rect x="719" y="399" width="1" height="33" fill="#000"/>
<rect x="717" y="416" width="5" height="15" fill="#000"/>
<rect x="727" y="417" width="1" height="14" fill="#000"/>
<rect x="725" y="427" width="5" height="4" fill="#000"/>
<rect x="726" y="428" width="3" height="2" fill="#fff"/>
<rect x="735" y="423" width="1" height="4" fill="#000"/>
<rect x="733" y="423" width="5" height="3" fill="#000"/>
<rect x="734" y="424" width="3" height="1" fill="#fff"/>
<rect x="743" y="414" width="1" height="14" fill="#000"/>
<rect x="741" y="422" width="5" height="3" fill="#000"/>
<rect x="742" y="423" width="3" height="1" fill="#fff"/>
<rect x="751" y="403" width="1" height="25" fill="#000"/>
<rect x="749" y="405" width="5" height="18" fill="#000"/>
<rect x="750" y="406" width="3" height="16" fill="#fff"/>
<rect x="759" y="401" width="1" height="19" fill="#000"/>
<rect x="757" y="405" width="5" height="10" fill="#000"/>
<rect x="767" y="411" width="1" height="26" fill="#000"/>
<rect x="765" y="414" width="5" height="21" fill="#000"/>
<rect x="775" y="425" width="1" height="11" fill="#000"/>
<rect x="773" y="427" width="5" height="8" fill="#000"/>
<rect x="774" y="428" width="3" height="6" fill="#fff"/>
<rect x="783" y="422" width="1" height="11" fill="#000"/>
<rect x="781" y="426" width="5" height="3" fill="#000"/>
<rect x="782" y="427" width="3" height="1" fill="#fff"/>
<rect x="791" y="422" width="1" height="8" fill="#000"/>
<rect x="789" y="426" width="5" height="1" fill="#000"/>
<rect x="799" y="425" width="1" height="35" fill="#000"/>
<rect x="797" y="425" width="5" height="28" fill="#000"/>
<rect x="807" y="444" width="1" height="17" fill="#000"/>
<rect x="805" y="447" width="5" height="5" fill="#000"/>
<rect x="806" y="448" width="3" height="3" fill="#fff"/>
<rect x="815" y="357" width="1" height="90" fill="#000"/>
<rect x="813" y="411" width="5" height="36" fill="#000"/>
<rect x="814" y="412" width="3" height="34" fill="#fff"/>
<rect x="823" y="409" width="1" height="43" fill="#000"/>
<rect x="821" y="411" width="5" height="39" fill="#000"/>
<rect x="831" y="442" width="1" height="9" fill="#000"/>
<rect x="829" y="443" width="5" height="7" fill="#000"/>
<rect x="830" y="444" width="3" height="5" fill="#fff"/>
<rect x="839" y="433" width="1" height="12" fill="#000"/>
<rect x="837" y="434" width="5" height="10" fill="#000"/>
<rect x="838" y="435" width="3" height="8" fill="#fff"/>
<rect x="847" y="434" width="1" height="47" fill="#000"/>
<rect x="845" y="434" width="5" height="40" fill="#000"/>
<rect x="855" y="462" width="1" height="35" fill="#000"/>
<rect x="853" y="474" width="5" height="10" fill="#000"/>
<rect x="863" y="457" width="1" height="55" fill="#000"/>
<rect x="861" y="471" width="5" height="14" fill="#000"/>
<rect x="862" y="472" width="3" height="12" fill="#fff"/>
<rect x="871" y="453" width="1" height="29" fill="#000"/>
<rect x="869" y="471" width="5" height="10" fill="#000"/>
<rect x="879" y="477" width="1" height="14" fill="#000"/>
<rect x="877" y="479" width="5" height="2" fill="#000"/>
<rect x="887" y="479" width="1" height="16" fill="#000"/>
<rect x="885" y="479" width="5" height="13" fill="#000"/>
<rect x="895" y="491" width="1" height="37" fill="#000"/>
<rect x="893" y="492" width="5" height="29" fill="#000"/>
<rect x="903" y="489" width="1" height="38" fill="#000"/>
<rect x="901" y="498" width="5" height="24" fill="#000"/>
<rect x="902" y="499" width="3" height="22" fill="#fff"/>
<rect x="911" y="462" width="1" height="50" fill="#000"/>
<rect x="909" y="477" width="5" height="21" fill="#000"/>
<rect x="910" y="478" width="3" height="19" fill="#fff"/>
<rect x="919" y="467" width="1" height="22" fill="#000"/>
<rect x="917" y="477" width="5" height="9" fill="#000"/>
<rect x="927" y="480" width="1" height="6" fill="#000"/>
<rect x="925" y="480" width="5" height="6" fill="#000"/>
<rect x="926" y="481" width="3" height="4" fill="#fff"/>
<rect x="935" y="478" width="1" height="7" fill="#000"/>
<rect x="933" y="479" width="5" height="4" fill="#000"/>
<rect x="943" y="459" width="1" height="26" fill="#000"/>
<rect x="941" y="465" width="5" height="17" fill="#000"/>
<rect x="942" y="466" width="3" height="15" fill="#fff"/>
<rect x="951" y="434" width="1" height="52" fill="#000"/>
<rect x="949" y="465" width="5" height="20" fill="#000"/>
<rect x="959" y="440" width="1" height="53" fill="#000"/>
<rect x="957" y="450" width="5" height="35" fill="#000"/>
<rect x="958" y="451" width="3" height="33" fill="#fff"/>
<rect x="967" y="422" width="1" height="29" fill="#000"/>
<rect x="965" y="437" width="5" height="13" fill="#000"/>
<rect x="966" y="438" width="3" height="11" fill="#fff"/>
<rect x="975" y="426" width="1" height="4" fill="#000"/>
<rect x="973" y="426" width="5" height="4" fill="#000"/>
<rect x="983" y="419" width="1" height="13" fill="#000"/>
<rect x="981" y="420" width="5" height="10" fill="#000"/>
<rect x="982" y="421" width="3" height="8" fill="#fff"/>
<rect x="991" y="409" width="1" height="23" fill="#000"/>
<rect x="989" y="420" width="5" height="12" fill="#000"/>
<rect x="999" y="429" width="1" height="42" fill="#000"/>
<rect x="997" y="431" width="5" height="25" fill="#000"/>
<rect x="1007" y="454" width="1" height="23" fill="#000"/>
<rect x="1005" y="455" width="5" height="14" fill="#000"/>
<rect x="1015" y="464" width="1" height="7" fill="#000"/>
<rect x="1013" y="464" width="5" height="4" fill="#000"/>
<rect x="1014" y="465" width="3" height="2" fill="#fff"/>
<rect x="1023" y="464" width="1" height="4" fill="#000"/>
<rect x="1021" y="464" width="5" height="1" fill="#000"/>
<rect x="1031" y="462" width="1" height="14" fill="#000"/>
<rect x="1029" y="464" width="5" height="7" fill="#000"/>
<rect x="1039" y="447" width="1" height="37" fill="#000"/>
<rect x="1037" y="470" width="5" height="8" fill="#000"/>
<rect x="1047" y="465" width="1" height="22" fill="#000"/>
<rect x="1045" y="474" width="5" height="4" fill="#000"/>
<rect x="1046" y="475" width="3" height="2" fill="#fff"/>
<rect x="1055" y="458" width="1" height="28" fill="#000"/>
<rect x="1053" y="474" width="5" height="3" fill="#000"/>
<rect x="1063" y="474" width="1" height="16" fill="#000"/>
<rect x="1061" y="476" width="5" height="11" fill="#000"/>
<rect x="1071" y="482" width="1" height="9" fill="#000"/>
<rect x="1069" y="484" width="5" height="3" fill="#000"/>
<rect x="1070" y="485" width="3" height="1" fill="#fff"/>
<rect x="1079" y="479" width="1" height="12" fill="#000"/>
<rect x="1077" y="482" width="5" height="2" fill="#000"/>
<rect x="1087" y="477" width="1" height="26" fill="#000"/>
<rect x="1085" y="481" width="5" height="20" fill="#000"/>
<rect x="1095" y="487" width="1" height="23" fill="#000"/>
<rect x="1093" y="498" width="5" height="3" fill="#000"/>
<rect x="1094" y="499" width="3" height="1" fill="#fff"/>
<rect x="1103" y="472" width="1" height="50" fill="#000"/>
<rect x="1101" y="497" width="5" height="11" fill="#000"/>
<rect x="1111" y="504" width="1" height="15" fill="#000"/>
<rect x="1109" y="506" width="5" height="7" fill="#000"/>
<rect x="1119" y="507" width="1" height="7" fill="#000"/>
<rect x="1117" y="507" width="5" height="7" fill="#000"/>
<rect x="1118" y="508" width="3" height="5" fill="#fff"/>
<rect x="1127" y="507" width="1" height="7" fill="#000"/>
<rect x="1125" y="507" width="5" height="1" fill="#000"/>
<rect x="1135" y="498" width="1" height="25" fill="#000"/>
<rect x="1133" y="507" width="5" height="7" fill="#000"/>
<rect x="1143" y="499" width="1" height="20" fill="#000"/>
<rect x="1141" y="507" width="5" height="7" fill="#000"/>
<rect x="1142" y="508" width="3" height="5" fill="#fff"/>
<rect x="1151" y="505" width="1" height="43" fill="#000"/>
<rect x="1149" y="507" width="5" height="11" fill="#000"/>
<rect x="1159" y="515" width="1" height="13" fill="#000"/>
<rect x="1157" y="517" width="5" height="6" fill="#000"/>
<rect x="1167" y="519" width="1" height="12" fill="#000"/>
<rect x="1165" y="522" width="5" height="5" fill="#000"/>
<rect x="1175" y="518" width="1" height="10" fill="#000"/>
<rect x="1173" y="522" width="5" height="4" fill="#000"/>
<rect x="1174" y="523" width="3" height="2" fill="#fff"/>
<rect x="1183" y="511" width="1" height="22" fill="#000"/>
<rect x="1181" y="514" width="5" height="8" fill="#000"/>
<rect x="1182" y="515" width="3" height="6" fill="#fff"/>
<rect x="1191" y="508" width="1" height="57" fill="#000"/>
<rect x="1189" y="514" width="5" height="48" fill="#000"/>
<rect x="1199" y="500" width="1" height="64" fill="#000"/>
<rect x="1197" y="516" width="5" height="46" fill="#000"/>
<rect x="1198" y="517" width="3" height="44" fill="#fff"/>
<rect x="1207" y="500" width="1" height="16" fill="#000"/>
<rect x="1205" y="504" width="5" height="12" fill="#000"/>
<rect x="1206" y="505" width="3" height="10" fill="#fff"/>
<rect x="1215" y="499" width="1" height="5" fill="#000"/>
<rect x="1213" y="499" width="5" height="5" fill="#000"/>
<rect x="1214" y="500" width="3" height="3" fill="#fff"/>
<rect x="1223" y="485" width="1" height="14" fill="#000"/>
<rect x="1221" y="488" width="5" height="11" fill="#000"/>
<rect x="1222" y="489" width="3" height="9" fill="#fff"/>
<rect x="1231" y="485" width="1" height="24" fill="#000"/>
<rect x="1229" y="487" width="5" height="2" fill="#000"/>
<rect x="1239" y="481" width="1" height="42" fill="#000"/>
<rect x="1237" y="487" width="5" height="32" fill="#000"/>
<rect x="1247" y="490" width="1" height="30" fill="#000"/>
<rect x="1245" y="516" width="5" height="4" fill="#000"/>
<rect x="1246" y="517" width="3" height="2" fill="#fff"/>
<rect x="1255" y="470" width="1" height="47" fill="#000"/>
<rect x="1253" y="476" width="5" height="40" fill="#000"/>
<rect x="1254" y="477" width="3" height="38" fill="#fff"/>
<rect x="1263" y="475" width="1" height="6" fill="#000"/>
<rect x="1261" y="475" width="5" height="5" fill="#000"/>
<rect x="1271" y="475" width="1" height="7" fill="#000"/>
<rect x="1269" y="477" width="5" height="3" fill="#000"/>
<rect x="1270" y="478" width="3" height="1" fill="#fff"/>
<rect x="1279" y="459" width="1" height="29" fill="#000"/>
<rect x="1277" y="478" width="5" height="7" fill="#000"/>
<rect x="1287" y="453" width="1" height="44" fill="#000"/>
<rect x="1285" y="465" width="5" height="19" fill="#000"/>
<rect x="1286" y="466" width="3" height="17" fill="#fff"/>
<rect x="1295" y="442" width="1" height="38" fill="#000"/>
<rect x="1293" y="464" width="5" height="6" fill="#000"/>
<rect x="1303" y="437" width="1" height="38" fill="#000"/>
<rect x="1301" y="442" width="5" height="28" fill="#000"/>
<rect x="1302" y="443" width="3" height="26" fill="#fff"/>
<rect x="1311" y="442" width="1" height="15" fill="#000"/>
<rect x="1309" y="442" width="5" height="5" fill="#000"/>
<rect x="1319" y="438" width="1" height="12" fill="#000"/>
<rect x="1317" y="444" width="5" height="4" fill="#000"/>
<rect x="1318" y="445" width="3" height="2" fill="#fff"/>
<rect x="1327" y="429" width="1" height="28" fill="#000"/>
<rect x="1325" y="444" width="5" height="4" fill="#000"/>
<rect x="1335" y="429" width="1" height="22" fill="#000"/>
<rect x="1333" y="448" width="5" height="1" fill="#000"/>
<rect x="1343" y="413" width="1" height="40" fill="#000"/>
<rect x="1341" y="444" width="5" height="4" fill="#000"/>
<rect x="1342" y="445" width="3" height="2" fill="#fff"/>
<rect x="1351" y="444" width="1" height="19" fill="#000"/>
<rect x="1349" y="444" width="5" height="16" fill="#000"/>
<rect x="1359" y="454" width="1" height="12" fill="#000"/>
<rect x="1357" y="459" width="5" height="1" fill="#000"/>
<rect x="1367" y="456" width="1" height="9" fill="#000"/>
<rect x="1365" y="458" width="5" height="2" fill="#000"/>
<rect x="1375" y="457" width="1" height="18" fill="#000"/>
<rect x="1373" y="459" width="5" height="4" fill="#000"/>
<rect x="1383" y="426" width="1" height="45" fill="#000"/>
<rect x="1381" y="429" width="5" height="34" fill="#000"/>
<rect x="1382" y="430" width="3" height="32" fill="#fff"/>
<rect x="1391" y="414" width="1" height="42" fill="#000"/>
<rect x="1389" y="428" width="5" height="10" fill="#000"/>
<rect x="1399" y="435" width="1" height="26" fill="#000"/>
<rect x="1397" y="437" width="5" height="18" fill="#000"/>
<rect x="1407" y="449" width="1" height="15" fill="#000"/>
<rect x="1405" y="453" width="5" height="2" fill="#000"/>
<rect x="1415" y="451" width="1" height="8" fill="#000"/>
<rect x="1413" y="453" width="5" height="1" fill="#000"/>
<rect x="1423" y="430" width="1" height="25" fill="#000"/>
<rect x="1421" y="441" width="5" height="13" fill="#000"/>
<rect x="1422" y="442" width="3" height="11" fill="#fff"/>
<rect x="1431" y="426" width="1" height="22" fill="#000"/>
<rect x="1429" y="441" width="5" height="1" fill="#000"/>
<rect x="1439" y="396" width="1" height="50" fill="#000"/>
<rect x="1437" y="416" width="5" height="26" fill="#000"/>
<rect x="1438" y="417" width="3" height="24" fill="#fff"/>
<rect x="1447" y="403" width="1" height="19" fill="#000"/>
<rect x="1445" y="415" width="5" height="1" fill="#000"/>
</g>
<g shape-rendering="crispEdges">
<rect x="1629" y="358" width="41" height="11" fill="#FF4500"/>
<rect x="1629" y="385" width="41" height="11" fill="#FF4500"/>
<rect x="1629" y="409" width="41" height="11" fill="#000000"/>
<rect x="1629" y="424" width="41" height="11" fill="#00FF7F"/>
<rect x="1629" y="451" width="41" height="11" fill="#0000FF"/>
<rect x="1629" y="481" width="41" height="11" fill="#0000FF"/>
</g>
<text class="t" x="1633.5" y="367" textLength="32.6" lengthAdjust="spacingAndGlyphs" style="fill:#fff;stroke:#fff;stroke-width:0.15px;font-size:9.6px">1.28010</text>
<text class="t" x="1633.5" y="394" textLength="32.6" lengthAdjust="spacingAndGlyphs" style="fill:#fff;stroke:#fff;stroke-width:0.15px;font-size:9.6px">1.27685</text>
<text class="t" x="1633.5" y="418" textLength="32.6" lengthAdjust="spacingAndGlyphs" style="fill:#fff;stroke:#fff;stroke-width:0.15px;font-size:9.6px">1.27394</text>
<text class="t" x="1633.5" y="433" textLength="32.6" lengthAdjust="spacingAndGlyphs" style="fill:#fff;stroke:#fff;stroke-width:0.15px;font-size:9.6px">1.27215</text>
<text class="t" x="1633.5" y="460" textLength="32.6" lengthAdjust="spacingAndGlyphs" style="fill:#fff;stroke:#fff;stroke-width:0.15px;font-size:9.6px">1.26890</text>
<text class="t" x="1633.5" y="490" textLength="32.6" lengthAdjust="spacingAndGlyphs" style="fill:#fff;stroke:#fff;stroke-width:0.15px;font-size:9.6px">1.26528</text>
<g shape-rendering="crispEdges">
<rect x="1456" y="430" width="10" height="1" fill="#FF0000"/>
<rect x="1463.5" y="428.5" width="2" height="3" fill="#fff" stroke="#FF0000" stroke-width="1"/>
<rect x="1466.5" y="418.5" width="73" height="24" fill="#fff" stroke="#FF0000" stroke-width="1"/>
</g>
<text x="1467.6" y="438.6" textLength="72" lengthAdjust="spacingAndGlyphs" style="font-size:22.5px;fill:#FF0000;stroke:#FF0000;stroke-width:0.5px">1.27215</text>
<path d="M1458 27h9l-4.5 5z" fill="#C0C0C0"/>
<path d="M2 37h7l-3.5-4z" fill="#000"/>
<text class="t" x="14.1" y="38" textLength="57" lengthAdjust="spacingAndGlyphs">GBPUSD-,H4</text>
<text class="t" x="77.5" y="38" textLength="140.3" lengthAdjust="spacingAndGlyphs">1.27385 1.27533 1.27325 1.27394</text>
<defs>
<linearGradient id="gtab" x1="0" y1="0" x2="0" y2="1"><stop offset="0" stop-color="#5C5CFA"/><stop offset="1" stop-color="#3C3CE2"/></linearGradient>
<linearGradient id="gpx" x1="0" y1="0" x2="0" y2="1"><stop offset="0" stop-color="#4040E6"/><stop offset="1" stop-color="#0000A6"/></linearGradient>
</defs>
<g shape-rendering="crispEdges">
<rect x="2" y="46" width="52" height="25" fill="#0000A0"/>
<rect x="3" y="47" width="50" height="23" fill="url(#gtab)"/>
<rect x="169" y="46" width="52" height="25" fill="#0000A0"/>
<rect x="170" y="47" width="50" height="23" fill="url(#gtab)"/>
<rect x="54" y="46" width="115" height="24" fill="#FFFFFF"/>
<rect x="56" y="46" width="111" height="22" fill="#B4B4B4"/>
<rect x="57" y="47" width="20" height="20" fill="#E6E6E6"/>
<rect x="78" y="47" width="67" height="20" fill="#FFFFFF"/>
<rect x="146" y="47" width="20" height="20" fill="#E6E6E6"/>
<rect x="2" y="70" width="109" height="40" fill="#0000A0"/>
<rect x="3" y="71" width="107" height="38" fill="url(#gpx)"/>
<rect x="113" y="70" width="108" height="40" fill="#0000A0"/>
<rect x="114" y="71" width="106" height="38" fill="url(#gpx)"/>
<rect x="3" y="69" width="50" height="2" fill="#4040E4"/>
<rect x="170" y="69" width="50" height="2" fill="#4040E4"/>
<rect x="6" y="69" width="44" height="1" fill="#000090"/>
<rect x="6" y="70" width="44" height="1" fill="#7878F8"/>
<rect x="173" y="69" width="44" height="1" fill="#000090"/>
<rect x="173" y="70" width="44" height="1" fill="#7878F8"/>
</g>
<path d="M64 55h5l-2.5 3z" fill="#000"/><path d="M153 58h5l-2.5-3z" fill="#000"/>
<text x="13.3" y="62" textLength="27.6" lengthAdjust="spacingAndGlyphs" style="font-size:12.5px;fill:#fff">SELL</text>
<text x="181.5" y="62" textLength="25.5" lengthAdjust="spacingAndGlyphs" style="font-size:12.5px;fill:#fff">BUY</text>
<text x="118.9" y="61" textLength="22.6" lengthAdjust="spacingAndGlyphs" style="font-size:12px;fill:#000">1.00</text>
<text x="21.6" y="101" textLength="25.8" lengthAdjust="spacingAndGlyphs" style="font-size:12.5px;font-weight:bold;fill:#fff">1.27</text>
<text x="49" y="101.5" textLength="36.5" lengthAdjust="spacingAndGlyphs" style="font-size:37px;fill:#fff">39</text>
<text x="89.3" y="84.8" textLength="7.6" lengthAdjust="spacingAndGlyphs" style="font-size:11.5px;font-weight:bold;fill:#fff">4</text>
<text x="131.8" y="101" textLength="25.8" lengthAdjust="spacingAndGlyphs" style="font-size:12.5px;font-weight:bold;fill:#fff">1.27</text>
<text x="158.5" y="101.5" textLength="34.5" lengthAdjust="spacingAndGlyphs" style="font-size:37px;fill:#fff">41</text>
<text x="200.3" y="84.8" textLength="7.6" lengthAdjust="spacingAndGlyphs" style="font-size:11.5px;font-weight:bold;fill:#fff">8</text>
<text class="t" x="3" y="594" textLength="147.5" lengthAdjust="spacingAndGlyphs">MACD(12,26,9) 0.001634 0.001379</text>
<g shape-rendering="crispEdges" fill="#C0C0C0">
<rect x="7" y="652" width="1" height="36"/>
<rect x="15" y="652" width="1" height="31"/>
<rect x="23" y="652" width="1" height="27"/>
<rect x="31" y="652" width="1" height="21"/>
<rect x="39" y="652" width="1" height="21"/>
<rect x="47" y="652" width="1" height="18"/>
<rect x="55" y="652" width="1" height="15"/>
<rect x="63" y="652" width="1" height="13"/>
<rect x="71" y="652" width="1" height="10"/>
<rect x="79" y="652" width="1" height="6"/>
<rect x="87" y="648" width="1" height="4"/>
<rect x="95" y="636" width="1" height="16"/>
<rect x="103" y="626" width="1" height="26"/>
<rect x="111" y="618" width="1" height="34"/>
<rect x="119" y="612" width="1" height="40"/>
<rect x="127" y="606" width="1" height="46"/>
<rect x="135" y="600" width="1" height="52"/>
<rect x="143" y="594" width="1" height="58"/>
<rect x="151" y="595" width="1" height="57"/>
<rect x="159" y="595" width="1" height="57"/>
<rect x="167" y="596" width="1" height="56"/>
<rect x="175" y="594" width="1" height="58"/>
<rect x="183" y="598" width="1" height="54"/>
<rect x="191" y="603" width="1" height="49"/>
<rect x="199" y="608" width="1" height="44"/>
<rect x="207" y="612" width="1" height="40"/>
<rect x="215" y="615" width="1" height="37"/>
<rect x="223" y="620" width="1" height="32"/>
<rect x="231" y="627" width="1" height="25"/>
<rect x="239" y="614" width="1" height="38"/>
<rect x="247" y="601" width="1" height="51"/>
<rect x="255" y="593" width="1" height="59"/>
<rect x="263" y="592" width="1" height="60"/>
<rect x="271" y="592" width="1" height="60"/>
<rect x="279" y="595" width="1" height="57"/>
<rect x="287" y="599" width="1" height="53"/>
<rect x="295" y="603" width="1" height="49"/>
<rect x="303" y="606" width="1" height="46"/>
<rect x="311" y="606" width="1" height="46"/>
<rect x="319" y="609" width="1" height="43"/>
<rect x="327" y="617" width="1" height="35"/>
<rect x="335" y="625" width="1" height="27"/>
<rect x="343" y="629" width="1" height="23"/>
<rect x="351" y="633" width="1" height="19"/>
<rect x="359" y="636" width="1" height="16"/>
<rect x="367" y="643" width="1" height="9"/>
<rect x="383" y="652" width="1" height="7"/>
<rect x="391" y="652" width="1" height="13"/>
<rect x="399" y="652" width="1" height="17"/>
<rect x="407" y="652" width="1" height="21"/>
<rect x="415" y="652" width="1" height="23"/>
<rect x="423" y="652" width="1" height="26"/>
<rect x="431" y="652" width="1" height="26"/>
<rect x="439" y="652" width="1" height="25"/>
<rect x="447" y="652" width="1" height="25"/>
<rect x="455" y="652" width="1" height="25"/>
<rect x="463" y="652" width="1" height="23"/>
<rect x="471" y="652" width="1" height="22"/>
<rect x="479" y="652" width="1" height="20"/>
<rect x="487" y="652" width="1" height="20"/>
<rect x="495" y="652" width="1" height="20"/>
<rect x="503" y="652" width="1" height="19"/>
<rect x="511" y="652" width="1" height="18"/>
<rect x="519" y="652" width="1" height="17"/>
<rect x="527" y="652" width="1" height="21"/>
<rect x="535" y="652" width="1" height="28"/>
<rect x="543" y="652" width="1" height="31"/>
<rect x="551" y="652" width="1" height="33"/>
<rect x="559" y="652" width="1" height="38"/>
<rect x="567" y="652" width="1" height="38"/>
<rect x="575" y="652" width="1" height="44"/>
<rect x="583" y="652" width="1" height="49"/>
<rect x="591" y="652" width="1" height="53"/>
<rect x="599" y="652" width="1" height="54"/>
<rect x="607" y="652" width="1" height="53"/>
<rect x="615" y="652" width="1" height="56"/>
<rect x="623" y="652" width="1" height="60"/>
<rect x="631" y="652" width="1" height="66"/>
<rect x="639" y="652" width="1" height="70"/>
<rect x="647" y="652" width="1" height="73"/>
<rect x="655" y="652" width="1" height="76"/>
<rect x="663" y="652" width="1" height="80"/>
<rect x="671" y="652" width="1" height="84"/>
<rect x="679" y="652" width="1" height="87"/>
<rect x="687" y="652" width="1" height="88"/>
<rect x="695" y="652" width="1" height="89"/>
<rect x="703" y="652" width="1" height="89"/>
<rect x="711" y="652" width="1" height="95"/>
<rect x="719" y="652" width="1" height="100"/>
<rect x="727" y="652" width="1" height="102"/>
<rect x="735" y="652" width="1" height="102"/>
<rect x="743" y="652" width="1" height="101"/>
<rect x="751" y="652" width="1" height="94"/>
<rect x="759" y="652" width="1" height="94"/>
<rect x="767" y="652" width="1" height="94"/>
<rect x="775" y="652" width="1" height="91"/>
<rect x="783" y="652" width="1" height="87"/>
<rect x="791" y="652" width="1" height="85"/>
<rect x="799" y="652" width="1" height="82"/>
<rect x="807" y="652" width="1" height="75"/>
<rect x="815" y="652" width="1" height="74"/>
<rect x="823" y="652" width="1" height="75"/>
<rect x="831" y="652" width="1" height="72"/>
<rect x="839" y="652" width="1" height="67"/>
<rect x="847" y="652" width="1" height="70"/>
<rect x="855" y="652" width="1" height="72"/>
<rect x="863" y="652" width="1" height="72"/>
<rect x="871" y="652" width="1" height="72"/>
<rect x="879" y="652" width="1" height="75"/>
<rect x="887" y="652" width="1" height="73"/>
<rect x="895" y="652" width="1" height="76"/>
<rect x="903" y="652" width="1" height="75"/>
<rect x="911" y="652" width="1" height="70"/>
<rect x="919" y="652" width="1" height="66"/>
<rect x="927" y="652" width="1" height="62"/>
<rect x="935" y="652" width="1" height="58"/>
<rect x="943" y="652" width="1" height="51"/>
<rect x="951" y="652" width="1" height="50"/>
<rect x="959" y="652" width="1" height="40"/>
<rect x="967" y="652" width="1" height="31"/>
<rect x="975" y="652" width="1" height="23"/>
<rect x="983" y="652" width="1" height="15"/>
<rect x="991" y="652" width="1" height="10"/>
<rect x="999" y="652" width="1" height="10"/>
<rect x="1007" y="652" width="1" height="11"/>
<rect x="1015" y="652" width="1" height="11"/>
<rect x="1023" y="652" width="1" height="13"/>
<rect x="1031" y="652" width="1" height="15"/>
<rect x="1039" y="652" width="1" height="16"/>
<rect x="1047" y="652" width="1" height="16"/>
<rect x="1055" y="652" width="1" height="18"/>
<rect x="1063" y="652" width="1" height="20"/>
<rect x="1071" y="652" width="1" height="21"/>
<rect x="1079" y="652" width="1" height="22"/>
<rect x="1087" y="652" width="1" height="24"/>
<rect x="1095" y="652" width="1" height="26"/>
<rect x="1103" y="652" width="1" height="28"/>
<rect x="1111" y="652" width="1" height="31"/>
<rect x="1119" y="652" width="1" height="31"/>
<rect x="1127" y="652" width="1" height="32"/>
<rect x="1135" y="652" width="1" height="33"/>
<rect x="1143" y="652" width="1" height="32"/>
<rect x="1151" y="652" width="1" height="33"/>
<rect x="1159" y="652" width="1" height="33"/>
<rect x="1167" y="652" width="1" height="35"/>
<rect x="1175" y="652" width="1" height="35"/>
<rect x="1183" y="652" width="1" height="35"/>
<rect x="1191" y="652" width="1" height="38"/>
<rect x="1199" y="652" width="1" height="35"/>
<rect x="1207" y="652" width="1" height="31"/>
<rect x="1215" y="652" width="1" height="25"/>
<rect x="1223" y="652" width="1" height="20"/>
<rect x="1231" y="652" width="1" height="15"/>
<rect x="1239" y="652" width="1" height="16"/>
<rect x="1247" y="652" width="1" height="16"/>
<rect x="1255" y="652" width="1" height="9"/>
<rect x="1263" y="652" width="1" height="4"/>
<rect x="1271" y="652" width="1" height="1"/>
<rect x="1279" y="651" width="1" height="1"/>
<rect x="1287" y="646" width="1" height="6"/>
<rect x="1295" y="643" width="1" height="9"/>
<rect x="1303" y="637" width="1" height="15"/>
<rect x="1311" y="632" width="1" height="20"/>
<rect x="1319" y="629" width="1" height="23"/>
<rect x="1327" y="627" width="1" height="25"/>
<rect x="1335" y="626" width="1" height="26"/>
<rect x="1343" y="625" width="1" height="27"/>
<rect x="1351" y="626" width="1" height="26"/>
<rect x="1359" y="628" width="1" height="24"/>
<rect x="1367" y="630" width="1" height="22"/>
<rect x="1375" y="632" width="1" height="20"/>
<rect x="1383" y="628" width="1" height="24"/>
<rect x="1391" y="627" width="1" height="25"/>
<rect x="1399" y="629" width="1" height="23"/>
<rect x="1407" y="631" width="1" height="21"/>
<rect x="1415" y="633" width="1" height="19"/>
<rect x="1423" y="632" width="1" height="20"/>
<rect x="1431" y="632" width="1" height="20"/>
<rect x="1439" y="628" width="1" height="24"/>
<rect x="1447" y="625" width="1" height="27"/>
</g>
<polyline points="0.0,704.7 25.0,695.4 50.2,684.1 71.5,674.8 79.5,671.3 87.5,667.0 95.5,661.9 103.5,656.3 111.5,650.0 119.5,643.5 127.5,636.7 135.5,629.5 143.5,622.0 151.5,615.0 159.5,609.1 167.5,604.7 175.5,601.1 183.5,598.8 191.5,597.8 199.5,598.1 207.5,599.4 215.5,601.8 223.5,604.6 231.5,608.2 239.5,610.2 247.5,611.0 255.5,610.4 263.5,609.2 271.5,607.4 279.5,605.5 287.5,603.7 295.5,601.8 303.5,599.4 311.5,598.6 319.5,599.4 327.5,602.1 335.5,605.8 343.5,609.9 351.5,614.1 359.5,618.3 367.5,622.8 375.5,627.9 383.5,633.8 391.5,640.0 399.5,645.7 407.5,651.0 415.5,656.5 423.5,661.9 431.5,666.9 439.5,671.0 447.5,674.0 455.5,675.9 463.5,677.1 471.5,677.6 479.5,677.6 487.5,677.3 495.5,676.6 503.5,675.8 511.5,675.0 519.5,674.1 527.5,673.6 535.5,674.1 543.5,675.1 551.5,676.5 559.5,678.5 567.5,680.5 575.5,683.3 583.5,686.7 591.5,690.7 599.5,694.3 607.5,697.1 615.5,700.0 623.5,702.9 631.5,706.1 639.5,709.7 647.5,712.9 655.5,715.9 663.5,718.9 671.5,722.2 679.5,725.9 687.5,729.4 695.5,732.6 703.5,735.1 711.5,737.8 719.5,740.8 727.5,743.8 735.5,746.3 743.5,748.2 751.5,749.0 759.5,749.6 767.5,750.2 775.5,750.4 783.5,749.6 791.5,747.9 799.5,745.6 807.5,742.6 815.5,739.6 823.5,737.5 831.5,735.0 839.5,732.1 847.5,729.9 855.5,728.2 863.5,726.8 871.5,725.7 879.5,725.7 887.5,725.6 895.5,725.8 903.5,726.1 911.5,726.5 919.5,726.1 927.5,724.9 935.5,723.4 943.5,721.1 951.5,718.3 959.5,714.7 967.5,709.7 975.5,703.9 983.5,697.7 991.5,691.4 999.5,685.5 1007.5,680.3 1015.5,675.8 1023.5,671.6 1031.5,668.5 1039.5,666.7 1047.5,665.9 1055.5,666.3 1063.5,667.5 1071.5,668.8 1079.5,670.1 1087.5,671.6 1095.5,673.2 1103.5,674.6 1111.5,676.3 1119.5,677.9 1127.5,679.5 1135.5,681.0 1143.5,682.3 1151.5,683.5 1159.5,684.5 1167.5,685.5 1175.5,686.3 1183.5,686.7 1191.5,687.5 1199.5,687.8 1207.5,687.6 1215.5,686.8 1223.5,685.4 1231.5,683.3 1239.5,681.2 1247.5,679.1 1255.5,676.2 1263.5,672.3 1271.5,668.2 1279.5,664.4 1287.5,660.6 1295.5,657.2 1303.5,653.7 1311.5,649.6 1319.5,645.3 1327.5,641.5 1335.5,638.2 1343.5,635.1 1351.5,632.3 1359.5,630.3 1367.5,628.9 1375.5,628.3 1383.5,627.8 1391.5,627.7 1399.5,627.9 1407.5,628.4 1415.5,629.3 1423.5,630.0 1431.5,630.4 1439.5,630.3 1447.5,629.5" fill="none" stroke="#FF0000" stroke-width="1" stroke-dasharray="3,2" shape-rendering="crispEdges"/>
<text class="t" x="2.9" y="779" textLength="67.6" lengthAdjust="spacingAndGlyphs">RSI(14) 65.9249</text>
<g shape-rendering="crispEdges">
<line x1="0" y1="799.5" x2="1627" y2="799.5" stroke="#C0C0C0" stroke-width="1" stroke-dasharray="3,3"/>
<line x1="0" y1="846.5" x2="1627" y2="846.5" stroke="#C0C0C0" stroke-width="1" stroke-dasharray="3,3"/>
<line x1="0" y1="902.5" x2="1627" y2="902.5" stroke="#C0C0C0" stroke-width="1" stroke-dasharray="3,3"/>
</g>
<polyline points="0.0,849.8 7.2,851.0 15.5,855.3 23.9,847.4 31.1,844.3 39.4,853.4 47.3,852.2 55.4,844.3 62.6,847.4 71.2,842.7 78.9,836.2 87.9,817.6 95.1,812.8 103.2,809.2 111.1,810.4 119.5,808.7 126.6,806.1 135.0,802.8 142.9,799.2 151.0,825.2 158.9,823.1 167.3,821.9 175.6,817.1 182.8,831.9 191.2,838.1 199.5,838.1 207.9,838.1 215.1,835.5 223.4,842.7 231.3,852.2 238.9,815.7 247.3,812.3 255.2,817.1 262.8,825.9 271.2,829.5 279.1,833.1 286.7,836.2 295.1,835.5 303.0,835.5 311.1,829.5 319.0,837.2 326.9,847.4 335.0,852.2 343.6,845.5 351.3,847.4 358.9,846.2 366.8,854.6 375.2,864.2 383.5,862.5 391.9,863.0 399.5,863.2 407.5,863.3 415.1,864.2 423.0,867.3 431.1,858.7 439.0,857.5 446.9,860.6 455.0,856.3 463.6,863.0 471.2,858.7 479.6,844.3 487.5,855.3 495.1,855.3 503.5,854.6 511.4,854.6 519.0,852.2 527.4,871.3 535.3,872.5 543.4,870.1 551.3,871.3 559.2,878.5 567.3,870.1 575.2,878.5 583.1,881.4 591.2,881.4 599.1,878.5 607.4,871.3 615.1,882.1 623.0,883.8 631.3,890.4 639.0,887.3 646.9,886.4 654.8,889.7 662.9,893.6 670.8,895.2 678.6,896.4 686.8,894.5 694.7,895.2 702.5,896.4 710.7,902.9 719.3,905.5 727.4,902.4 735.3,900.0 743.2,898.3 750.8,883.3 759.2,885.7 767.1,891.6 775.2,885.7 783.1,883.3 790.8,883.3 799.1,891.2 807.5,886.9 815.4,861.1 823.0,874.4 831.4,870.1 839.3,865.4 847.4,876.8 855.3,879.2 863.6,872.5 871.3,875.4 879.2,874.4 887.5,878.5 895.2,884.0 903.1,872.5 911.4,862.5 919.1,864.2 927.0,861.3 935.3,862.5 943.7,854.6 951.6,860.1 959.2,846.2 966.9,841.5 974.7,839.1 983.1,835.5 991.5,840.3 998.6,850.5 1007.5,855.3 1015.4,853.4 1023.7,853.4 1031.4,855.3 1040.0,859.4 1047.6,856.3 1056.0,858.2 1063.9,862.5 1071.5,860.6 1079.2,859.4 1087.8,867.3 1095.9,866.6 1103.8,870.1 1110.9,872.5 1119.3,868.2 1127.7,868.2 1135.6,871.3 1143.2,866.6 1151.6,871.3 1159.5,873.0 1167.1,875.3 1175.6,871.0 1183.1,862.2 1191.5,883.1 1199.3,853.9 1207.2,848.0 1215.6,846.1 1223.9,840.9 1231.3,841.3 1239.3,856.1 1247.0,854.3 1255.4,836.3 1263.7,838.7 1271.1,837.2 1279.4,840.9 1287.8,833.1 1295.2,836.3 1303.5,825.2 1310.9,828.3 1319.3,827.6 1326.7,829.4 1335.0,829.4 1343.3,828.3 1351.7,838.5 1359.1,838.5 1367.4,838.5 1374.8,840.0 1383.1,823.9 1390.6,828.9 1398.9,840.4 1407.2,840.4 1415.2,840.4 1423.0,833.5 1431.3,834.4 1439.3,822.4 1446.7,821.5" fill="none" stroke="#1E90FF" stroke-width="1" shape-rendering="crispEdges"/>
</svg></body></html>
